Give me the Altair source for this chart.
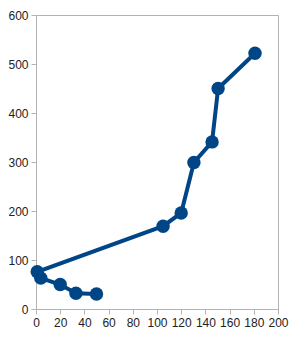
import altair as alt
import pandas as pd

xs = [50, 33, 20, 4, 1, 105, 120, 130.5, 145.5, 150.5, 181]
ys = [30.5, 32, 50, 63, 76, 169, 196, 299, 341, 450, 522]
order = list(range(len(xs)))

df = pd.DataFrame({"x": xs, "y": ys, "o": order})
color = "#004586"

base = alt.Chart(df).encode(
    x=alt.X("x:Q", scale=alt.Scale(domain=[0, 200], nice=False),
            axis=alt.Axis(values=list(range(0, 201, 20)), title=None, grid=False)),
    y=alt.Y("y:Q", scale=alt.Scale(domain=[0, 600], nice=False),
            axis=alt.Axis(values=list(range(0, 601, 100)), title=None, grid=False)),
    order="o:Q",
)

line = base.mark_line(color=color, strokeWidth=4)
pts = base.mark_circle(color=color, size=180, opacity=1)

chart = (line + pts).properties(
    width=242, height=294,
    autosize=alt.AutoSizeParams(type="none"),
    padding={"left": 36, "top": 15, "right": 16, "bottom": 31},
).configure_view(stroke="#b3b3b3", strokeWidth=1).configure_axis(
    domainColor="#b3b3b3", tickColor="#b3b3b3", tickSize=5,
    labelFont="Liberation Sans", labelFontSize=12, labelColor="#222222",
    labelPadding=3, labelOverlap=False, labelFlush=False,
)

chart.save("out.html", embed_options={"renderer": "svg", "actions": False})
